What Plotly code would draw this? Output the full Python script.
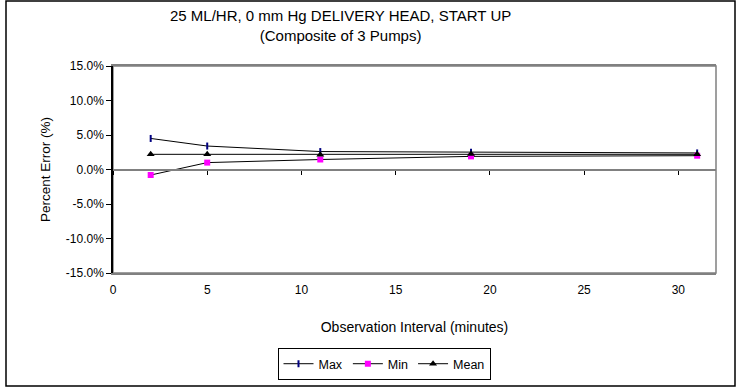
import plotly.graph_objects as go

minutes = [2, 5, 11, 19, 31]
max_err = [4.5, 3.4, 2.6, 2.5, 2.4]
min_err = [-0.8, 1.0, 1.45, 1.9, 2.0]
mean_err = [2.2, 2.2, 2.15, 2.25, 2.2]
y_ticks = [-15, -10, -5, 0, 5, 10, 15]
y_tick_labels = ["-15.0%", "-10.0%", "-5.0%", "0.0%", "5.0%", "10.0%", "15.0%"]
x_ticks = [0, 5, 10, 15, 20, 25, 30]

FONT = "Liberation Sans, Arial, sans-serif"

fig = go.Figure()
fig.add_trace(go.Scatter(
    x=minutes, y=max_err, name="Max", mode="lines+markers",
    line=dict(color="#000000", width=1),
    marker=dict(symbol="line-ns", size=5, line=dict(color="#000080", width=2)),
))
fig.add_trace(go.Scatter(
    x=minutes, y=min_err, name="Min", mode="lines+markers",
    line=dict(color="#000000", width=1),
    marker=dict(symbol="square", size=6, color="#FF00FF"),
))
fig.add_trace(go.Scatter(
    x=minutes, y=mean_err, name="Mean", mode="lines+markers",
    line=dict(color="#000000", width=1),
    marker=dict(symbol="triangle-up", size=7, color="#000000"),
))
# helper trace so the zero-crossing axis is drawn
fig.add_trace(go.Scatter(x=[None], y=[None], xaxis="x2", showlegend=False,
                         hoverinfo="skip", mode="lines"))

L, R, T, B = 113, 21, 66, 114
W, H = 737, 387
pw, ph = W - L - R, H - T - B

fig.update_layout(
    width=W, height=H,
    margin=dict(l=L, r=R, t=T, b=B, autoexpand=False),
    paper_bgcolor="white", plot_bgcolor="white",
    font=dict(family=FONT, color="#000000", size=12),
    xaxis=dict(
        range=[0, 32], tickvals=x_ticks, ticks="", showgrid=False, zeroline=False,
        showline=True, linecolor="#808080", linewidth=1.5, mirror=True,
        tickfont=dict(size=12), automargin=False, ticklabelstandoff=5,
        title=dict(text="Observation Interval (minutes)", font=dict(size=14), standoff=26),
    ),
    xaxis2=dict(
        range=[0, 32], tickvals=x_ticks, overlaying="x", anchor="free", position=0.5,
        side="bottom", ticks="outside", ticklen=4, tickwidth=1, tickcolor="#000000",
        showticklabels=False, showline=True, linecolor="#808080", linewidth=2,
        showgrid=False, zeroline=False, automargin=False,
    ),
    yaxis=dict(
        range=[-15, 15], tickvals=y_ticks, ticktext=y_tick_labels,
        ticks="outside", ticklen=5, tickcolor="#000000", showgrid=False, zeroline=False,
        showline=True, linecolor="#000000", linewidth=1.5,
        tickfont=dict(size=12), automargin=False,
        title=dict(text="Percent Error (%)", font=dict(size=13.5), standoff=12),
    ),
    legend=dict(
        orientation="h", x=(384 - L) / pw, xanchor="center", y=-0.44, yanchor="middle",
        bordercolor="#000000", borderwidth=1, bgcolor="white",
        font=dict(size=12.5, family=FONT), itemwidth=30, tracegroupgap=0,
    ),
    annotations=[
        dict(text="25 ML/HR, 0 mm Hg DELIVERY HEAD, START UP<br>(Composite of 3 Pumps)",
             xref="paper", yref="paper", x=(340 - L) / pw, y=(H - B - 5) / ph,
             xanchor="center", yanchor="top", showarrow=False,
             font=dict(size=15, family=FONT), align="center"),
    ],
    shapes=[
        dict(type="rect", xref="paper", yref="paper", x0=0, x1=1, y0=0, y1=1,
             line=dict(color="#808080", width=1.5), layer="below"),
        dict(type="rect", xref="paper", yref="paper",
             x0=(6 - L) / pw, x1=(735 - L) / pw,
             y0=(H - B - 386) / ph, y1=(H - B - 1) / ph,
             line=dict(color="#000000", width=1.5), layer="below"),
    ],
)

fig.write_html(
    "out.html",
    config={"displayModeBar": False},
    post_script="document.body.style.margin='0';document.body.style.padding='0';",
)
